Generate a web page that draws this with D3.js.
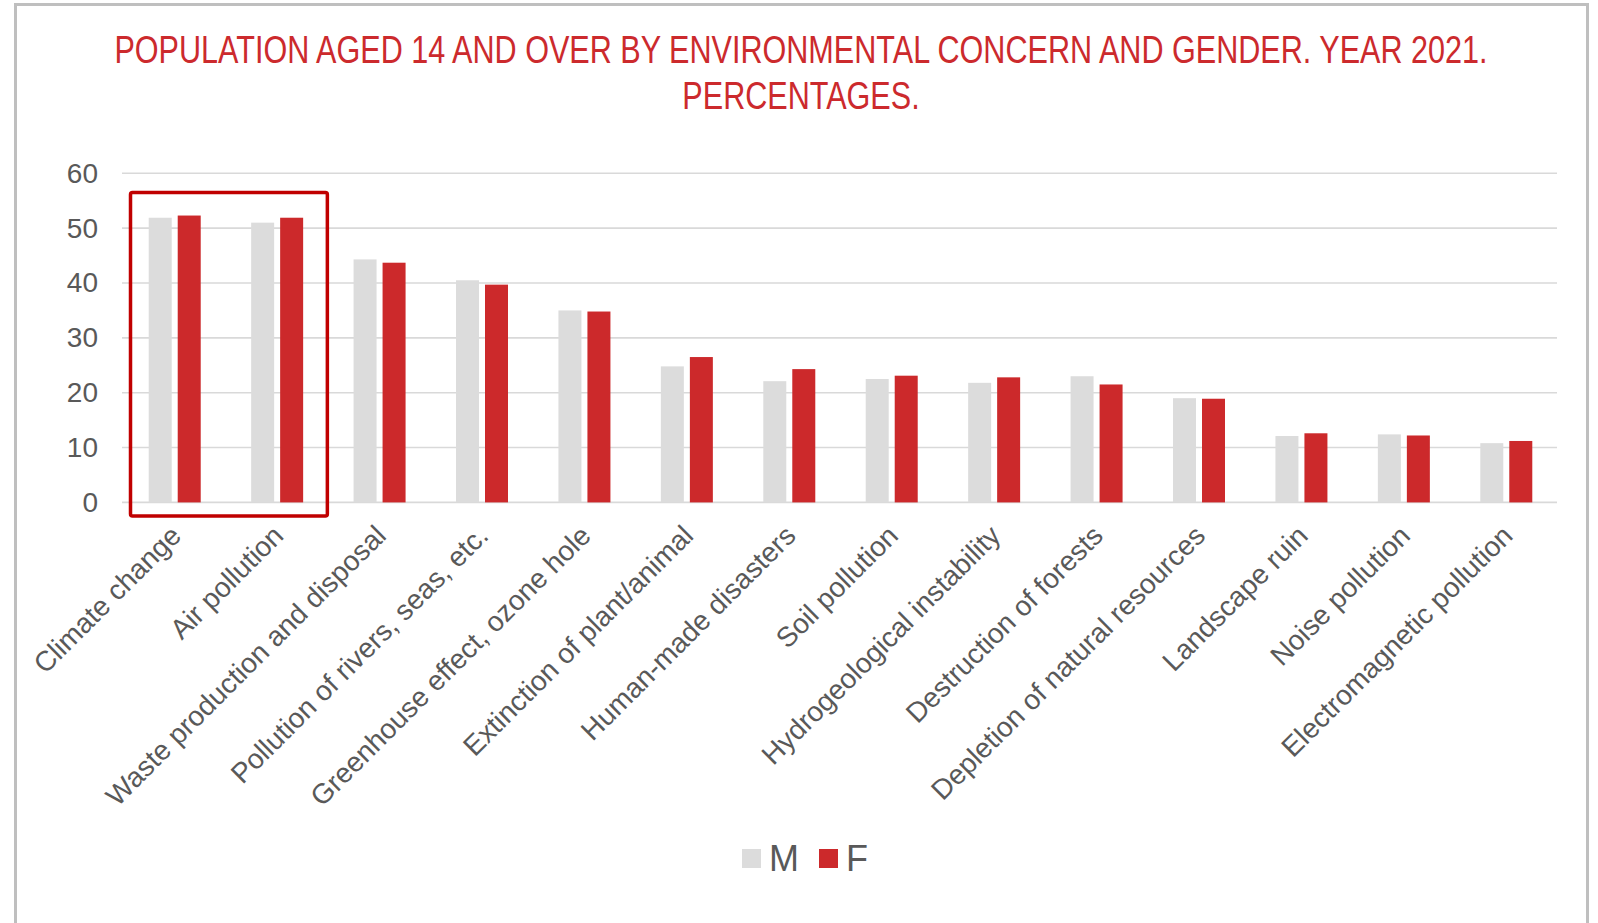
<!DOCTYPE html>
<html>
<head>
<meta charset="utf-8">
<script src="https://cdn.jsdelivr.net/npm/d3@7"></script>
<style>
  html, body { margin: 0; padding: 0; background: #ffffff; }
  svg { display: block; }
  text { font-family: "Liberation Sans", Arial, sans-serif; }
</style>
</head>
<body>
<svg id="chart" width="1598" height="923"></svg>
<script>
// Environmental concerns, population aged 14+, 2021 (%)
const categories = [
  "Climate change",
  "Air pollution",
  "Waste production and disposal",
  "Pollution of rivers, seas, etc.",
  "Greenhouse effect, ozone hole",
  "Extinction of plant/animal",
  "Human-made disasters",
  "Soil pollution",
  "Hydrogeological instability",
  "Destruction of forests",
  "Depletion of natural resources",
  "Landscape ruin",
  "Noise pollution",
  "Electromagnetic pollution"
];
const male   = [51.9, 51.0, 44.3, 40.5, 35.0, 24.8, 22.1, 22.5, 21.8, 23.0, 19.0, 12.1, 12.4, 10.8];
const female = [52.3, 51.9, 43.7, 39.7, 34.8, 26.5, 24.3, 23.1, 22.8, 21.5, 18.9, 12.6, 12.2, 11.2];
const seriesNames = ["M", "F"];
const yTicks = [0, 10, 20, 30, 40, 50, 60];
const highlighted = ["Climate change", "Air pollution"];
const titleLines = [
  "POPULATION AGED 14 AND OVER BY ENVIRONMENTAL CONCERN AND GENDER. YEAR 2021.",
  "PERCENTAGES."
];

const colors = { M: "#dcdcdc", F: "#cc292b" };
const rows = categories.map((c, i) => ({ cat: c, M: male[i], F: female[i] }));

const svg = d3.select("#chart");

// outer frame
svg.append("rect")
  .attr("x", 15.5).attr("y", 4.5)
  .attr("width", 1572).attr("height", 940)
  .attr("fill", "#ffffff")
  .attr("stroke", "#bfbfbf").attr("stroke-width", 3);

// title, drawn narrow (condensed look)
const title = svg.append("g").attr("fill", "#cc2a2d")
  .attr("font-size", 38).attr("text-anchor", "middle");
title.append("g").attr("transform", "translate(801,63) scale(0.805,1)")
  .append("text").text(titleLines[0]);
title.append("g").attr("transform", "translate(801,109) scale(0.805,1)")
  .append("text").text(titleLines[1]);

// scales
const x = d3.scaleBand().domain(categories).range([123.5, 1557.5]).padding(0);
const xs = d3.scaleBand().domain(seriesNames).range([0, 52]).paddingInner(6 / 29).paddingOuter(0);
const y = d3.scaleLinear().domain([0, 60]).range([502.4, 173.3]);

// gridlines
svg.append("g")
  .selectAll("line").data(yTicks).join("line")
  .attr("x1", 122).attr("x2", 1557)
  .attr("y1", d => y(d)).attr("y2", d => y(d))
  .attr("stroke", "#d9d9d9").attr("stroke-width", 1.6);

// y axis labels
const yAxis = svg.append("g").attr("transform", "translate(98,0)")
  .call(d3.axisLeft(y).tickValues(yTicks).tickSize(0).tickPadding(0));
yAxis.select(".domain").remove();
yAxis.selectAll("text")
  .attr("font-size", 28).attr("fill", "#595959")
  .attr("font-family", "'Liberation Sans', Arial, sans-serif");

// bars
const groups = svg.append("g").selectAll("g").data(rows).join("g")
  .attr("transform", d => `translate(${x(d.cat) + x.bandwidth() / 2 - 26},0)`);
groups.selectAll("rect")
  .data(d => seriesNames.map(k => ({ key: k, value: d[k] })))
  .join("rect")
  .attr("x", d => xs(d.key))
  .attr("width", xs.bandwidth())
  .attr("y", d => y(d.value))
  .attr("height", d => y(0) - y(d.value))
  .attr("fill", d => colors[d.key]);

// x axis labels, rotated
const xLabels = svg.append("g");
xLabels.selectAll("text").data(categories).join("text")
  .attr("transform", d => `translate(${x(d) + x.bandwidth() / 2 + 8},${y(0) + 35}) rotate(-45)`)
  .attr("text-anchor", "end")
  .attr("font-size", 28)
  .attr("fill", "#595959")
  .text(d => d);

// highlight box around the top two concerns
const hx0 = x(highlighted[0]) + 7;
const hx1 = x(highlighted[highlighted.length - 1]) + x.bandwidth() - 1;
svg.append("rect")
  .attr("x", hx0).attr("y", y(56.5))
  .attr("width", hx1 - hx0).attr("height", y(0) + 13.5 - y(56.5))
  .attr("rx", 2)
  .attr("fill", "none")
  .attr("stroke", "#c00000").attr("stroke-width", 3.5);

// legend
const legend = svg.append("g").attr("transform", "translate(742,849)");
const items = legend.selectAll("g").data(seriesNames).join("g")
  .attr("transform", (d, i) => `translate(${i * 77},0)`);
items.append("rect").attr("width", 19).attr("height", 19).attr("fill", d => colors[d]);
items.append("text").attr("x", 27).attr("y", 22)
  .attr("font-size", 36).attr("fill", "#595959").text(d => d);
</script>
</body>
</html>
